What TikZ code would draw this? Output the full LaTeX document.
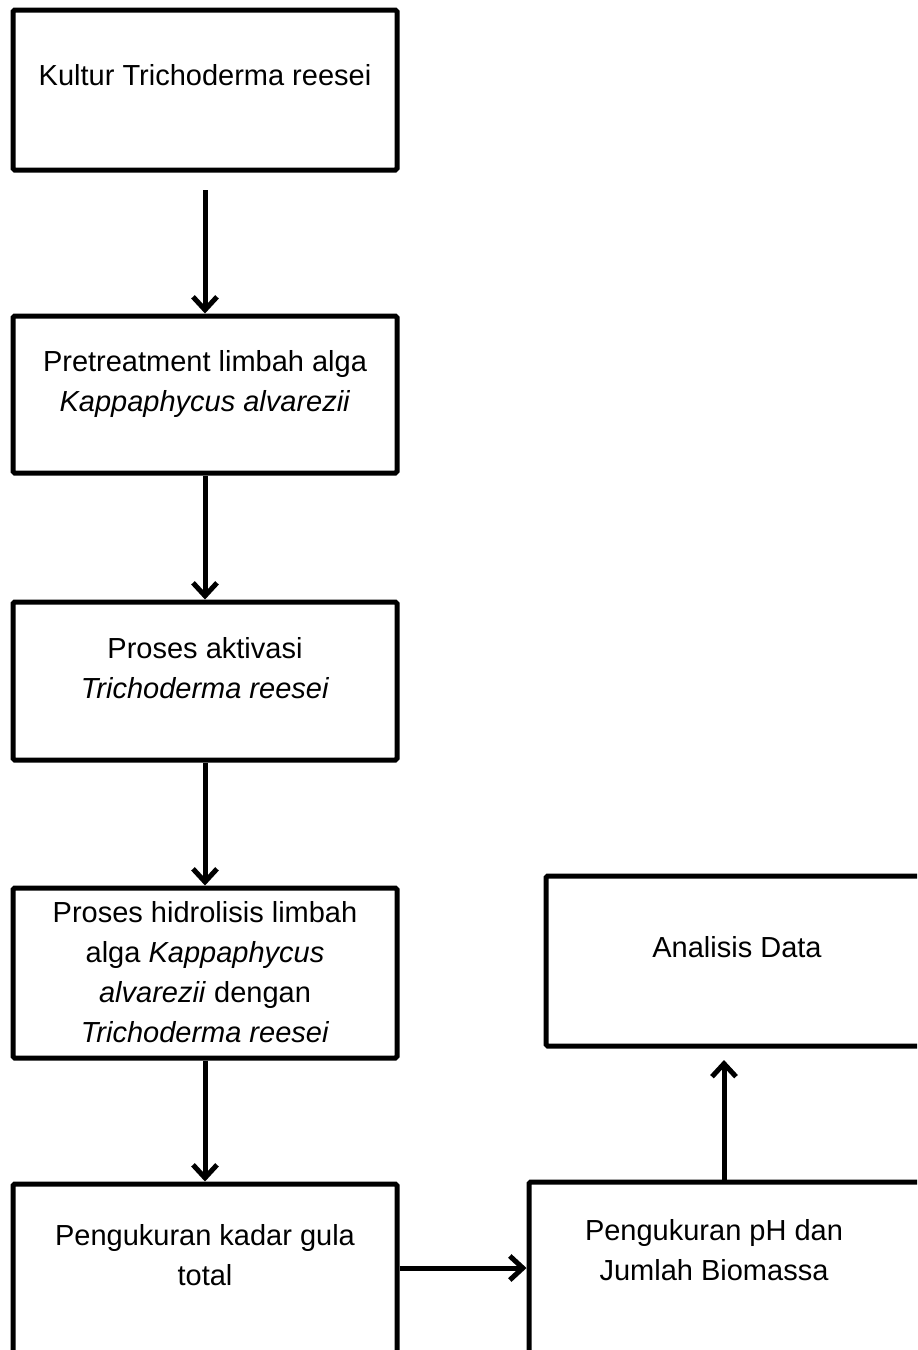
\documentclass[tikz,border=0pt]{standalone}
\usepackage{fontspec}
\setmainfont{Liberation Sans}
\usetikzlibrary{arrows.meta}
\begin{document}
\begin{tikzpicture}[x=0.5pt,y=-0.5pt,
  box/.style={draw=black,line width=2.5pt,rounded corners=0.8pt,fill=white,inner sep=0pt},
  lbl/.style={anchor=base,align=center,inner sep=0pt,font=\fontsize{14.5pt}{20pt}\selectfont},
  arr/.style={line width=2.5pt,-{Straight Barb[length=6.5pt,width=12pt]}}]
\path[use as bounding box] (0,0) rectangle (917,1350);
\clip (0,0) rectangle (917,1350);
% boxes
\node[box,minimum width=192pt,minimum height=80pt] (b1) at (205,90) {};
\node[box,minimum width=192pt,minimum height=78.5pt] (b2) at (205,394.5) {};
\node[box,minimum width=192pt,minimum height=79pt] (b3) at (205,681) {};
\node[box,minimum width=192pt,minimum height=85pt] (b4) at (205,973) {};
\node[box,minimum width=192pt,minimum height=98pt] (b5) at (205,1282) {};
\node[box,minimum width=203pt,minimum height=99pt] (b6) at (732,1281) {};
\node[box,minimum width=194.5pt,minimum height=85pt] (b7) at (740.5,961) {};
% texts (anchor = baseline of the last line)
\node[lbl] (t1) at (205,85) {Kultur Trichoderma reesei};
\node[lbl] (t2) at (205,411) {Pretreatment limbah alga\\\textit{Kappaphycus alvarezii}};
\node[lbl] (t3) at (205,698) {Proses aktivasi\\\textit{Trichoderma reesei}};
\node[lbl] (t4) at (205,1042) {Proses hidrolisis limbah\\alga \textit{Kappaphycus}\\\textit{alvarezii} dengan\\\textit{Trichoderma reesei}};
\node[lbl] (t5) at (205,1285) {Pengukuran kadar gula\\total};
\node[lbl] (t6) at (714,1280) {Pengukuran pH dan\\Jumlah Biomassa};
\node[lbl] (t7) at (737,957) {Analisis Data};
% connectors
\coordinate (a1s) at (0,190);
\coordinate (hy) at (0,1268);
\coordinate (vx) at (724,0);
\coordinate (v7) at (724,1060);
\draw[arr] (b2.north |- a1s) -- (b2.north);
\draw[arr] (b2.south) -- (b3.north);
\draw[arr] (b3.south) -- (b4.north);
\draw[arr] (b4.south) -- (b5.north);
\draw[arr] (b5.east |- hy) -- (b6.west |- hy);
\draw[arr] (b6.north -| vx) -- (v7);
\end{tikzpicture}
\end{document}
